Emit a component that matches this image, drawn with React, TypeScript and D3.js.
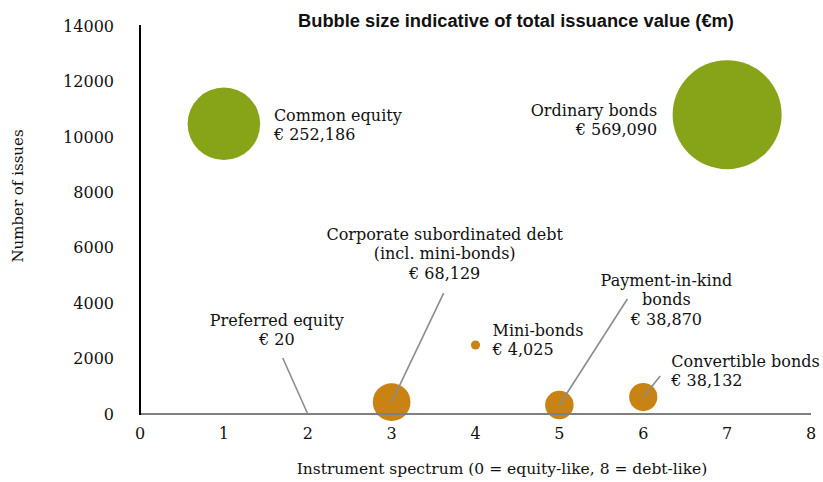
import React from "react";
import * as d3 from "d3";

// ---- Data ----
const instruments = [
  "Common equity",
  "Preferred equity",
  "Corporate subordinated debt (incl. mini-bonds)",
  "Mini-bonds",
  "Payment-in-kind bonds",
  "Convertible bonds",
  "Ordinary bonds",
];
const spectrum = [1, 2, 3, 4, 5, 6, 7];
const issues = [10470, 0, 430, 2490, 325, 610, 10800];
const issuanceValue = [252186, 20, 68129, 4025, 38870, 38132, 569090];
const group = ["equity", "other", "other", "other", "other", "other", "equity"];
const labelLines = [
  ["Common equity", "€ 252,186"],
  ["Preferred equity", "€ 20"],
  ["Corporate subordinated debt", "(incl. mini-bonds)", "€ 68,129"],
  ["Mini-bonds", "€ 4,025"],
  ["Payment-in-kind", "bonds", "€ 38,870"],
  ["Convertible bonds", "€ 38,132"],
  ["Ordinary bonds", "€ 569,090"],
];
const xTicks = [0, 1, 2, 3, 4, 5, 6, 7, 8];
const yTicks = [0, 2000, 4000, 6000, 8000, 10000, 12000, 14000];

const title = "Bubble size indicative of total issuance value (€m)";
const xTitle = "Instrument spectrum (0 = equity-like, 8 = debt-like)";
const yTitle = "Number of issues";

// ---- Layout / style (label placement relative to the point, in px) ----
const W = 823;
const H = 482;
const M = { left: 140, right: 12, top: 26, bottom: 68 };
const colors: Record<string, string> = { equity: "#87A418", other: "#C88314" };
const labelLayout = [
  { anchor: "start", dx: 50, dy: -3, leader: null },
  { anchor: "middle", dx: -31, dy: -88, leader: [-25, -56] },
  { anchor: "middle", dx: 53, dy: -162, leader: [52, -109] },
  { anchor: "start", dx: 17, dy: -9, leader: null },
  { anchor: "middle", dx: 107, dy: -119, leader: [68, -106] },
  { anchor: "start", dx: 28, dy: -30, leader: [17, -21] },
  { anchor: "end", dx: -70, dy: 1, leader: null },
];
const LINE_H = 19.3;
const SERIF = "'DejaVu Serif', serif";

export default function App() {
  const x = d3.scaleLinear().domain([0, 8]).range([M.left, W - M.right]);
  const y = d3.scaleLinear().domain([0, 14000]).range([H - M.bottom, M.top]);
  const r = d3
    .scaleSqrt()
    .domain([0, d3.max(issuanceValue) as number])
    .range([0, 54.5]);

  const points = instruments.map((name, i) => ({
    name,
    px: x(spectrum[i]),
    py: y(issues[i]),
    r: r(issuanceValue[i]),
    color: colors[group[i]],
    lines: labelLines[i],
    layout: labelLayout[i],
  }));

  return (
    <svg
      width={W}
      height={H}
      style={{ position: "absolute", left: 0, top: 0, background: "#fff" }}
    >
      <rect width={W} height={H} fill="#fff" />
      {/* title */}
      <text
        x={516}
        y={27}
        textAnchor="middle"
        fontFamily="'Liberation Sans', Arial, sans-serif"
        fontWeight="bold"
        fontSize={18.3}
        fill="#111"
      >
        {title}
      </text>

      {/* y tick labels */}
      {yTicks.map((t) => (
        <text
          key={"y" + t}
          x={M.left - 26}
          y={y(t)}
          dy="0.36em"
          textAnchor="end"
          fontFamily={SERIF}
          fontSize={16}
          fill="#111"
        >
          {t}
        </text>
      ))}
      {/* x tick labels */}
      {xTicks.map((t) => (
        <text
          key={"x" + t}
          x={x(t)}
          y={H - M.bottom + 25}
          textAnchor="middle"
          fontFamily={SERIF}
          fontSize={16}
          fill="#111"
        >
          {t}
        </text>
      ))}

      {/* axis titles */}
      <text
        x={502}
        y={474}
        textAnchor="middle"
        fontFamily={SERIF}
        fontSize={15.5}
        fill="#111"
      >
        {xTitle}
      </text>
      <text
        transform={`translate(23,196) rotate(-90)`}
        textAnchor="middle"
        fontFamily={SERIF}
        fontSize={15}
        fill="#111"
      >
        {yTitle}
      </text>

      {/* bubbles */}
      {points.map((p) => (
        <circle key={p.name} cx={p.px} cy={p.py} r={p.r} fill={p.color} />
      ))}

      {/* axes */}
      <line
        x1={x(0)}
        x2={x(8)}
        y1={y(0)}
        y2={y(0)}
        stroke="#7f7f7f"
        strokeWidth={2}
      />
      <line
        x1={x(0)}
        x2={x(0)}
        y1={y(0) + 1}
        y2={y(14000) - 1}
        stroke="#000"
        strokeWidth={2}
      />

      {/* leader lines */}
      {points.map((p) =>
        p.layout.leader ? (
          <line
            key={"l" + p.name}
            x1={p.px + p.layout.leader[0]}
            y1={p.py + p.layout.leader[1]}
            x2={p.px}
            y2={p.py}
            stroke="#8c8c8c"
            strokeWidth={1.6}
          />
        ) : null
      )}

      {/* labels */}
      {points.map((p) => (
        <text
          key={"t" + p.name}
          textAnchor={p.layout.anchor as any}
          fontFamily={SERIF}
          fontSize={16}
          fill="#111"
        >
          {p.lines.map((ln, j) => (
            <tspan
              key={j}
              x={p.px + p.layout.dx}
              y={p.py + p.layout.dy + j * LINE_H}
            >
              {ln}
            </tspan>
          ))}
        </text>
      ))}
    </svg>
  );
}
